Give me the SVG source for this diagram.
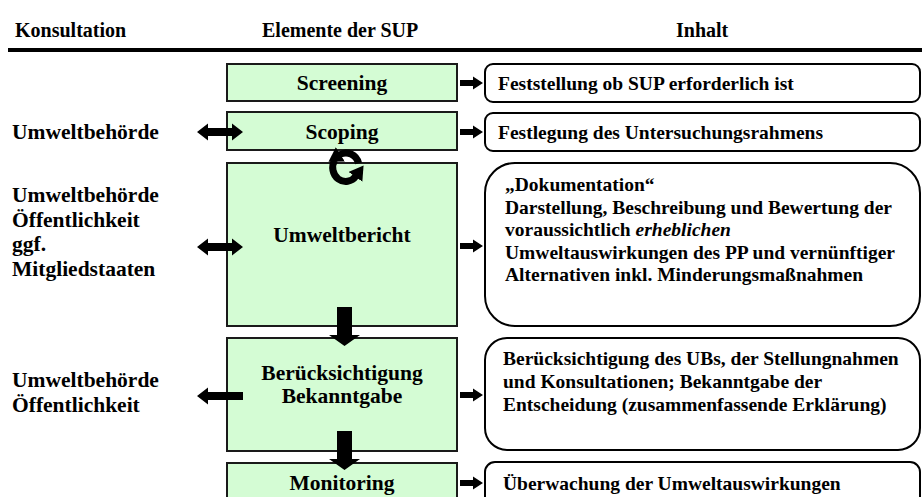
<svg xmlns="http://www.w3.org/2000/svg" width="922" height="497" viewBox="0 0 922 497">
<style>
text{font-family:"Liberation Serif","Times New Roman",serif;font-weight:bold;fill:#000}
.hd{font-size:20px}
.lt{font-size:21.5px}
.gl{font-size:21.5px;text-anchor:middle}
.ct{font-size:19.5px}
.green{fill:#d4fcd4;stroke:#1a1a1a;stroke-width:2}
.cbox{fill:#fff;stroke:#000;stroke-width:2}
.arr{fill:#000}
</style>
<defs>
<path id="ra" d="M0,-3 H13 V-6.5 L23,0 L13,6.5 V3 H0 Z"/>
<path id="da" d="M0,0 L11,-8.5 V-4 H35 V-8.5 L46,0 L35,8.5 V4 H11 V8.5 Z"/>
<path id="la" d="M0,0 L11,-8.5 V-4 H46 V4 H11 V8.5 Z"/>
<path id="va" d="M-7.5,0 H7.5 V28 H15.5 L0,39 L-15.5,28 H-7.5 Z"/>
<marker id="cyc" markerUnits="userSpaceOnUse" markerWidth="20" markerHeight="20" refX="1" refY="8.5" orient="auto">
<path d="M0,0 L14,8.5 L0,17 Z" fill="#000"/>
</marker>
</defs>

<g id="header">
<text class="hd" x="15" y="37">Konsultation</text>
<text class="hd" x="262" y="37">Elemente der SUP</text>
<text class="hd" x="676" y="37">Inhalt</text>
<line x1="8" y1="50" x2="922" y2="50" stroke="#000" stroke-width="4"/>
</g>

<g id="konsultation-scoping"><text class="lt" x="12" y="139">Umweltbehörde</text></g>
<g id="konsultation-bericht">
<text class="lt" x="12" y="202">Umweltbehörde</text>
<text class="lt" x="12" y="227">Öffentlichkeit</text>
<text class="lt" x="12" y="251">ggf.</text>
<text class="lt" x="12" y="276">Mitgliedstaaten</text>
</g>
<g id="konsultation-beruecksichtigung">
<text class="lt" x="12" y="387">Umweltbehörde</text>
<text class="lt" x="12" y="412">Öffentlichkeit</text>
</g>

<g id="screening"><rect class="green" x="227" y="64" width="230" height="37"/><text class="gl" x="342" y="90">Screening</text></g>
<g id="scoping"><rect class="green" x="227" y="112" width="230" height="38"/><text class="gl" x="342" y="139">Scoping</text></g>
<g id="umweltbericht"><rect class="green" x="227" y="163" width="230" height="163"/><text class="gl" x="342" y="242">Umweltbericht</text></g>
<g id="beruecksichtigung"><rect class="green" x="227" y="338" width="230" height="113"/><text class="gl" x="342" y="380">Berücksichtigung</text><text class="gl" x="342" y="403">Bekanntgabe</text></g>
<g id="monitoring"><rect class="green" x="227" y="463" width="230" height="50"/><text class="gl" x="342" y="490">Monitoring</text></g>

<g id="inhalt-screening"><rect class="cbox" x="485" y="64" width="435" height="38" rx="8"/><text class="ct" x="498" y="90">Feststellung ob SUP erforderlich ist</text></g>
<g id="inhalt-scoping"><rect class="cbox" x="485" y="113" width="435" height="38" rx="8"/><text class="ct" x="498" y="139">Festlegung des Untersuchungsrahmens</text></g>
<g id="inhalt-bericht"><rect class="cbox" x="485" y="163" width="435" height="163" rx="30"/>
<text class="ct" x="505" y="191">„Dokumentation“</text>
<text class="ct" x="505" y="213.5">Darstellung, Beschreibung und Bewertung der</text>
<text class="ct" x="505" y="236">voraussichtlich <tspan font-style="italic">erheblichen</tspan></text>
<text class="ct" x="505" y="258.5">Umweltauswirkungen des PP und vernünftiger</text>
<text class="ct" x="505" y="281">Alternativen inkl. Minderungsmaßnahmen</text>
</g>
<g id="inhalt-beruecksichtigung"><rect class="cbox" x="485" y="338" width="435" height="112" rx="22"/>
<text class="ct" x="503" y="365">Berücksichtigung des UBs, der Stellungnahmen</text>
<text class="ct" x="503" y="388">und Konsultationen; Bekanntgabe der</text>
<text class="ct" x="503" y="411">Entscheidung (zusammenfassende Erklärung)</text>
</g>
<g id="inhalt-monitoring"><rect class="cbox" x="485" y="462" width="435" height="60" rx="10"/><text class="ct" x="503" y="490">Überwachung der Umweltauswirkungen</text></g>

<g id="connectors" class="arr">
<use href="#ra" x="460" y="83"/>
<use href="#ra" x="460" y="132"/>
<use href="#ra" x="460" y="246"/>
<use href="#ra" x="460" y="395"/>
<use href="#ra" x="460" y="483"/>
<use href="#da" x="197" y="132"/>
<use href="#da" x="197" y="247"/>
<use href="#la" x="197" y="396"/>
<use href="#va" x="344.5" y="307"/>
<use href="#va" x="344.5" y="431"/>
<path d="M358.6,163.4 A13,14 0 0 0 339.5,154.9" fill="none" stroke="#000" stroke-width="7" marker-end="url(#cyc)"/>
<path d="M334.7,160 A13,14 0 0 0 356,176" fill="none" stroke="#000" stroke-width="7" marker-end="url(#cyc)"/>
</g>
</svg>
